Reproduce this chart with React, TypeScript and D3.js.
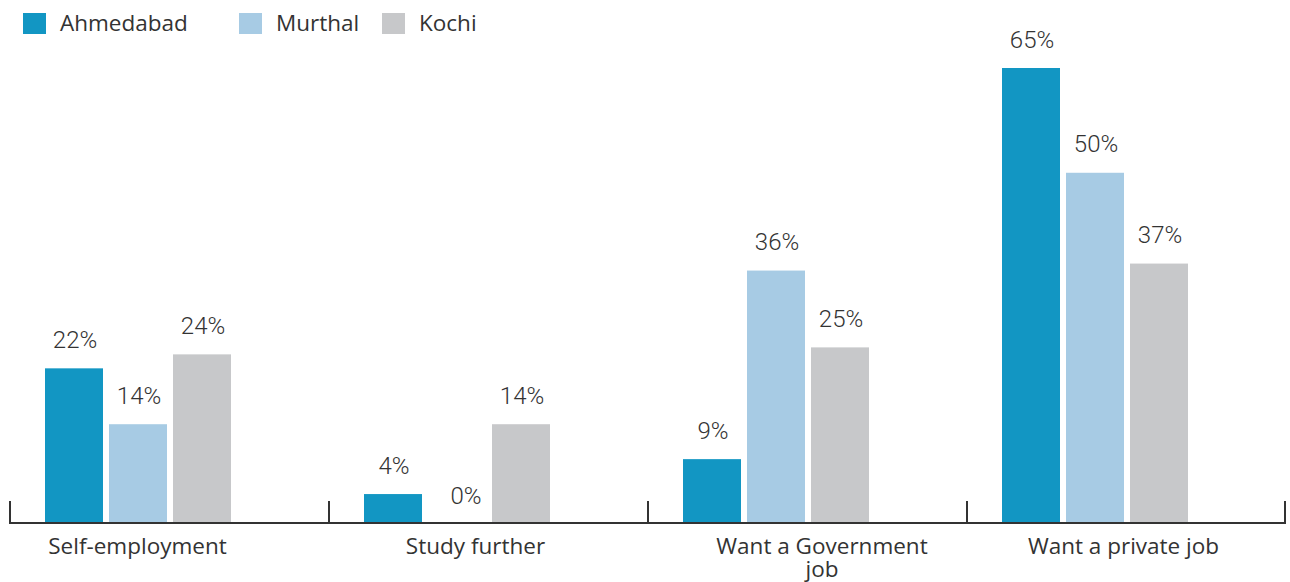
import React from "react";
import * as d3 from "d3";

const categories = ["Self-employment", "Study further", "Want a Government job", "Want a private job"];
const categoryLines = [["Self-employment"], ["Study further"], ["Want a Government", "job"], ["Want a private job"]];
const seriesNames = ["Ahmedabad", "Murthal", "Kochi"];
const ahmedabad = [22, 4, 9, 65];
const murthal = [14, 0, 36, 50];
const kochi = [24, 14, 25, 37];
const seriesValues = [ahmedabad, murthal, kochi];

const colors = ["#1296c3", "#a7cbe4", "#c7c8ca"];
const labelShift = [-0.5, 18.5, 46, 28.5];
const legendX = [23, 239, 382];

const W = 1290;
const H = 582;
const baseY = 522;

export default function App() {
  const x = d3.scaleBand<string>().domain(categories).range([10, 1286]).padding(0);
  const x1 = d3.scaleBand<string>().domain(seriesNames).range([35, 35 + 186]).paddingInner(6 / 64).paddingOuter(0);
  const y = d3.scaleLinear().domain([0, 65]).range([baseY, 68]);
  const textColor = "#333333";
  const catFont = "'Open Sans', sans-serif";
  const valFont = "Roboto, 'Liberation Sans', Arial, sans-serif";

  const ticks = [...categories.map((c) => x(c) as number), 1285];

  return (
    <svg width={W} height={H} style={{ position: "absolute", left: 0, top: 0, background: "#fff" }}>
      {/* legend */}
      {seriesNames.map((s, i) => (
        <g key={s}>
          <rect x={legendX[i]} y={13} width={23} height={21} fill={colors[i]} />
          <text x={legendX[i] + 37} y={31} fontFamily={catFont} fontSize={22.5} fill={textColor}>
            {s}
          </text>
        </g>
      ))}
      {/* bars */}
      {categories.map((c, ci) => (
        <g key={c} transform={`translate(${x(c)},0)`}>
          {seriesNames.map((s, si) => {
            const v = seriesValues[si][ci];
            const bx = x1(s) as number;
            const bw = x1.bandwidth();
            return (
              <g key={s}>
                {v > 0 && <rect x={bx} y={y(v)} width={bw} height={baseY - y(v)} fill={colors[si]} />}
                <text
                  x={bx + bw / 2 + (v === 0 ? 9 : 1)}
                  y={y(v) - (v === 0 ? 18 : 20.5)}
                  textAnchor="middle"
                  fontFamily={valFont}
                  fontWeight={300}
                  fontSize={24}
                  fill={textColor}
                >
                  {v}%
                </text>
              </g>
            );
          })}
          {categoryLines[ci].map((line, li) => (
            <text
              key={li}
              x={(x1(seriesNames[0]) as number) + 93 + labelShift[ci]}
              y={554 + li * 23}
              textAnchor="middle"
              fontFamily={catFont}
              fontSize={22.5}
              fill={textColor}
            >
              {line}
            </text>
          ))}
        </g>
      ))}
      {/* axis */}
      <line x1={10} x2={1286} y1={523} y2={523} stroke="#333" strokeWidth={2} />
      {ticks.map((t, i) => (
        <line key={i} x1={t} x2={t} y1={501} y2={524} stroke="#333" strokeWidth={2} />
      ))}
    </svg>
  );
}
